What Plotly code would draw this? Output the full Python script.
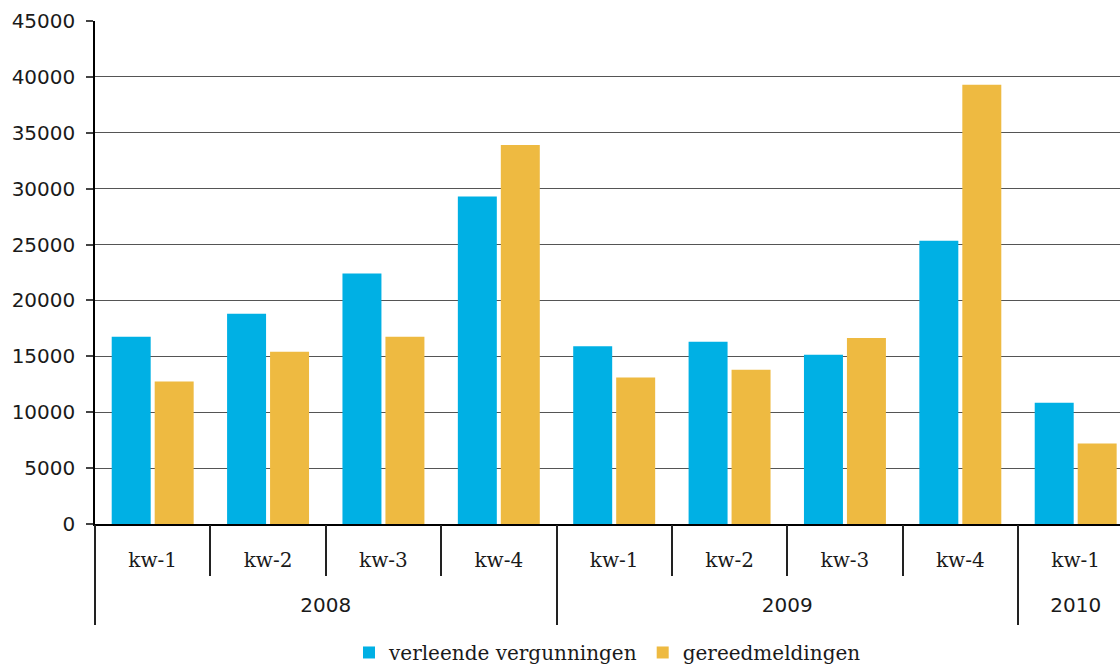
import plotly.graph_objects as go

# Quarterly figures: granted permits vs. completions
years = ["2008", "2008", "2008", "2008", "2009", "2009", "2009", "2009", "2010"]
quarters = ["kw-1", "kw-2", "kw-3", "kw-4", "kw-1", "kw-2", "kw-3", "kw-4", "kw-1"]
verleende_vergunningen = [16750, 18800, 22400, 29300, 15900, 16300, 15150, 25350, 10850]
gereedmeldingen = [12750, 15400, 16750, 33900, 13100, 13800, 16650, 39300, 7200]
y_ticks = [0, 5000, 10000, 15000, 20000, 25000, 30000, 35000, 40000, 45000]

BLUE = "#00B0E4"
YELLOW = "#EEBA41"
INK = "#1a1a1a"
SERIF = "DejaVu Serif"
SANS = "DejaVu Sans"

# one category per quarter; the axis shows only the quarter name
categories = [f"{y} {q}" for y, q in zip(years, quarters)]

# year groups: label at the group centre, dividers at the group edges
year_names, year_centres, year_edges = [], [], []
start = 0
for i in range(1, len(years) + 1):
    if i == len(years) or years[i] != years[start]:
        year_names.append(years[start])
        year_centres.append((start + i - 1) / 2)
        year_edges.append(start - 0.5)
        start = i
inner_edges = [i + 0.5 for i in range(len(years) - 1) if years[i] == years[i + 1]]

# visible window: the last quarter is partly cut off at the right edge
x_range = [-0.5, 8.384]

fig = go.Figure()
fig.add_trace(go.Bar(x=categories, y=verleende_vergunningen,
                     name="verleende vergunningen", marker_color=BLUE,
                     marker_line_width=0))
fig.add_trace(go.Bar(x=categories, y=gereedmeldingen,
                     name="gereedmeldingen", marker_color=YELLOW,
                     marker_line_width=0))
# empty traces that keep the helper axes (boundary ticks, year labels) alive
for ax_id in ("x2", "x3", "x4"):
    fig.add_trace(go.Scatter(x=[], y=[], xaxis=ax_id, yaxis="y",
                             showlegend=False, hoverinfo="skip"))

helper = dict(type="linear", overlaying="x", anchor="y", side="bottom",
              range=x_range, tickmode="array", showgrid=False,
              zeroline=False, showline=False)

fig.update_layout(
    width=1120, height=672,
    margin=dict(l=95, r=0, t=21, b=148),
    paper_bgcolor="white", plot_bgcolor="white",
    barmode="group", bargap=0.255, bargroupgap=0.093,
    font=dict(family=SANS, size=20, color=INK),
    showlegend=True,
    legend=dict(orientation="h", x=0.5, xanchor="center",
                y=-0.2942, yanchor="bottom",
                font=dict(family=SERIF, size=20, color=INK),
                traceorder="normal", itemwidth=30, tracegroupgap=0),
    xaxis=dict(
        type="category", range=x_range,
        tickmode="array", tickvals=categories, ticktext=quarters,
        showline=True, linecolor="black", linewidth=1.5,
        showgrid=False, ticks="",
        tickfont=dict(family=SERIF, size=20, color=INK),
        ticklabelstandoff=17,
    ),
    # short ticks between quarters of the same year
    xaxis2=dict(helper, tickvals=inner_edges, ticks="outside", ticklen=51,
                tickwidth=1.5, tickcolor="#222", showticklabels=False),
    # long dividers between years
    xaxis3=dict(helper, tickvals=year_edges, ticks="outside", ticklen=100,
                tickwidth=1.5, tickcolor="#222", showticklabels=False),
    # year labels under the quarter labels
    xaxis4=dict(helper, tickvals=year_centres, ticktext=year_names, ticks="",
                tickfont=dict(family=SANS, size=20, color=INK),
                ticklabelstandoff=67),
    yaxis=dict(
        range=[0, 45000], tickmode="array", tickvals=y_ticks,
        tickformat="d",
        showline=True, linecolor="black", linewidth=1.5,
        ticks="outside", ticklen=7, tickcolor="#444", tickwidth=1.5,
        showgrid=True, gridcolor="#555555", gridwidth=1.2,
        zeroline=False,
        tickfont=dict(family=SANS, size=20, color=INK),
        ticklabelstandoff=7,
    ),
)

fig.write_html("out.html")
